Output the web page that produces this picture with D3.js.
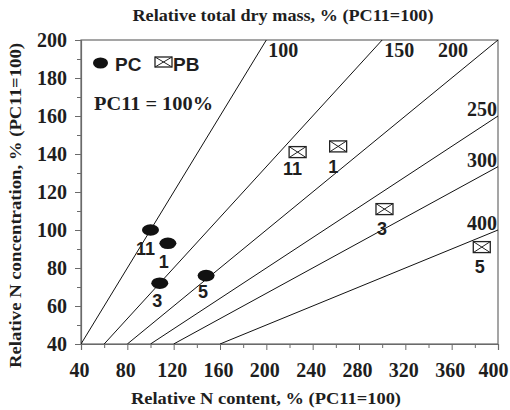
<!DOCTYPE html>
<html>
<head>
<meta charset="utf-8">
<script src="https://cdn.jsdelivr.net/npm/d3@7"></script>
<style>
  body { margin: 0; background: #fff; }
</style>
</head>
<body>
<div id="chart"></div>
<script>
// data
const xTicks = [40, 80, 120, 160, 200, 240, 280, 320, 360, 400];
const yTicks = [40, 60, 80, 100, 120, 140, 160, 180, 200];
const dryMass = [100, 150, 200, 250, 300, 400];          // isolines, % of PC11
const pcLabels = ["11", "1", "3", "5"];
const pcContent = [100, 115, 108, 148];
const pcConc = [100, 93, 72, 76];
const pbLabels = ["11", "1", "3", "5"];
const pbContent = [227, 262, 302, 386];
const pbConc = [141, 144, 111, 91];

const margin = { top: 40, right: 12, bottom: 66, left: 81 };
const W = 510, H = 410;
const width = W - margin.left - margin.right;
const height = H - margin.top - margin.bottom;

const x = d3.scaleLinear().domain([40, 400]).range([0, width]);
const y = d3.scaleLinear().domain([40, 200]).range([height, 0]);

const svg = d3.select('#chart').append('svg')
    .attr('width', W).attr('height', H)
    .append('g')
    .attr('transform', `translate(${margin.left}, ${margin.top})`);

const serif = '"Liberation Serif", "Times New Roman", serif';
const sans = '"Liberation Sans", Arial, sans-serif';
const axisGray = '#6a6a6a';
const ink = '#1e1e1e';

// frame
svg.append('rect')
    .attr('x', 0).attr('y', 0).attr('width', width).attr('height', height)
    .attr('fill', 'none').attr('stroke', axisGray).attr('stroke-width', 1.2);

// minor ticks
svg.append('g')
    .attr('transform', `translate(0, ${height})`)
    .call(d3.axisBottom(x).tickValues(d3.range(60, 400, 40)).tickSize(4).tickFormat(''))
    .call(g => g.select('.domain').remove())
    .call(g => g.selectAll('line').attr('stroke', axisGray));
svg.append('g')
    .call(d3.axisLeft(y).tickValues(d3.range(50, 200, 20)).tickSize(4).tickFormat(''))
    .call(g => g.select('.domain').remove())
    .call(g => g.selectAll('line').attr('stroke', axisGray));

// axes
svg.append('g')
    .attr('transform', `translate(0, ${height})`)
    .call(d3.axisBottom(x).tickValues(xTicks).tickSize(6).tickPadding(13))
    .call(g => g.select('.domain').attr('stroke', axisGray).attr('stroke-width', 1.2))
    .call(g => g.selectAll('line').attr('stroke', axisGray))
    .call(g => g.selectAll('text').attr('font-family', serif).attr('font-weight', 'bold')
        .attr('font-size', 20).attr('fill', ink).attr('x', -2)
        .attr('text-anchor', d => d === 400 ? 'end' : 'middle')
        .attr('dx', d => d === 400 ? 12 : 0));

svg.append('g')
    .call(d3.axisLeft(y).tickValues(yTicks).tickSize(6).tickPadding(8))
    .call(g => g.select('.domain').attr('stroke', axisGray).attr('stroke-width', 1.2))
    .call(g => g.selectAll('line').attr('stroke', axisGray))
    .call(g => g.selectAll('text').attr('font-family', serif).attr('font-weight', 'bold')
        .attr('font-size', 20).attr('fill', ink).attr('dy', '0.34em'));

// isolines: conc = content * 100 / mass
svg.append('clipPath').attr('id', 'plotclip')
    .append('rect').attr('width', width).attr('height', height);

const lines = svg.append('g').attr('clip-path', 'url(#plotclip)');
dryMass.forEach(m => {
    const x0 = 40 * m / 100;
    const x1 = Math.min(400, 200 * m / 100);
    lines.append('line')
        .attr('x1', x(x0)).attr('y1', y(x0 * 100 / m))
        .attr('x2', x(x1)).attr('y2', y(x1 * 100 / m))
        .attr('stroke', '#111').attr('stroke-width', 1);
});

// isoline labels
const lineLabels = svg.append('g')
    .attr('font-family', serif).attr('font-weight', 'bold').attr('font-size', 20).attr('fill', ink);
dryMass.forEach(m => {
    const x1 = 200 * m / 100;
    let tx, ty, anchor;
    if (x1 < 400) {
        tx = x(x1) + 2; ty = 17; anchor = 'start';
    } else if (x1 === 400) {
        tx = x(x1) - 30; ty = 17; anchor = 'end';
    } else {
        tx = width - 1; ty = y(400 * 100 / m); anchor = 'end';
    }
    lineLabels.append('text')
        .attr('x', tx).attr('y', ty).attr('text-anchor', anchor).text(m);
});

// PC points
const pc = svg.append('g');
pc.selectAll('ellipse').data(pcLabels).enter().append('ellipse')
    .attr('cx', (d, i) => x(pcContent[i]))
    .attr('cy', (d, i) => y(pcConc[i]))
    .attr('rx', 8.5).attr('ry', 5.8)
    .attr('fill', '#111');

const pcOff = [[-5, 25], [-4, 25], [-2.5, 24], [-3, 22]];
pc.selectAll('text').data(pcLabels).enter().append('text')
    .attr('x', (d, i) => x(pcContent[i]) + pcOff[i][0])
    .attr('y', (d, i) => y(pcConc[i]) + pcOff[i][1])
    .attr('text-anchor', 'middle')
    .attr('font-family', sans).attr('font-weight', 'bold').attr('font-size', 18).attr('fill', ink)
    .text(d => d);

// PB points
function boxX(g, cx, cy, w, h) {
    g.append('rect').attr('x', cx - w / 2).attr('y', cy - h / 2)
        .attr('width', w).attr('height', h)
        .attr('fill', '#fff').attr('stroke', '#222').attr('stroke-width', 1.3);
    g.append('path')
        .attr('d', `M${cx - w / 2},${cy - h / 2}L${cx + w / 2},${cy + h / 2}M${cx + w / 2},${cy - h / 2}L${cx - w / 2},${cy + h / 2}`)
        .attr('stroke', '#222').attr('stroke-width', 1);
}
const pb = svg.append('g');
pbLabels.forEach((d, i) => boxX(pb, x(pbContent[i]), y(pbConc[i]), 17, 11));
const pbOff = [[-5, 23], [-5, 27], [-2.5, 26], [-2, 26]];
pb.selectAll('text').data(pbLabels).enter().append('text')
    .attr('x', (d, i) => x(pbContent[i]) + pbOff[i][0])
    .attr('y', (d, i) => y(pbConc[i]) + pbOff[i][1])
    .attr('text-anchor', 'middle')
    .attr('font-family', sans).attr('font-weight', 'bold').attr('font-size', 18).attr('fill', ink)
    .text(d => d);

// legend
const legend = svg.append('g').attr('font-family', sans).attr('font-weight', 'bold')
    .attr('font-size', 19).attr('fill', ink);
legend.append('ellipse').attr('cx', 19.5).attr('cy', 23).attr('rx', 7.5).attr('ry', 5.5).attr('fill', '#111');
legend.append('text').attr('x', 34).attr('y', 31).text('PC');
boxX(legend, 82.5, 22, 17, 10);
legend.append('text').attr('x', 92).attr('y', 31).text('PB');

svg.append('text')
    .attr('x', 13).attr('y', 70)
    .attr('font-family', serif).attr('font-weight', 'bold').attr('font-size', 19).attr('fill', ink)
    .attr('textLength', 119).attr('lengthAdjust', 'spacingAndGlyphs')
    .text('PC11 = 100%');

// axis titles
svg.append('text')
    .attr('x', 202 - 150.5).attr('y', -19)
    .attr('font-family', serif).attr('font-weight', 'bold').attr('font-size', 16.5).attr('fill', ink)
    .attr('textLength', 301).attr('lengthAdjust', 'spacingAndGlyphs')
    .text('Relative total dry mass, % (PC11=100)');

svg.append('text')
    .attr('x', 50).attr('y', height + 60)
    .attr('font-family', serif).attr('font-weight', 'bold').attr('font-size', 16.5).attr('fill', ink)
    .attr('textLength', 270).attr('lengthAdjust', 'spacingAndGlyphs')
    .text('Relative N content, % (PC11=100)');

svg.append('text')
    .attr('transform', `translate(${-60}, ${328}) rotate(-90)`)
    .attr('font-family', serif).attr('font-weight', 'bold').attr('font-size', 16.5).attr('fill', ink)
    .attr('textLength', 325).attr('lengthAdjust', 'spacingAndGlyphs')
    .text('Relative N concentration, % (PC11=100)');
</script>
</body>
</html>
